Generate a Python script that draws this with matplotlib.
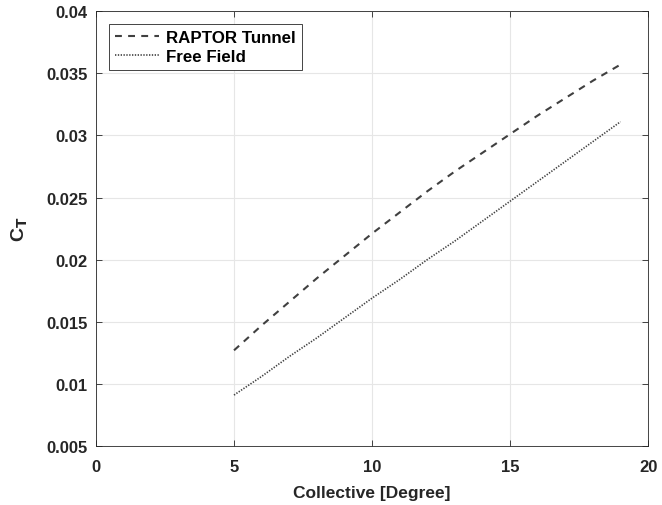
import matplotlib.pyplot as plt
import numpy as np

# collective pitch (deg) and thrust coefficient
collective = np.arange(5, 20)
ct_tunnel = [0.0127, 0.0147, 0.0166, 0.0185, 0.0203, 0.0221, 0.0238, 0.0255,
             0.0271, 0.0286, 0.0301, 0.0316, 0.0330, 0.0344, 0.0357]
ct_free = [0.0091, 0.0106, 0.0122, 0.0137, 0.0153, 0.0169, 0.0184, 0.0200,
           0.0215, 0.0231, 0.0247, 0.0263, 0.0279, 0.0295, 0.0311]

plt.rcParams['font.family'] = 'Liberation Sans'
plt.rcParams['font.weight'] = 'bold'

fig = plt.figure(figsize=(6.62, 5.06), dpi=100)
ax = fig.add_axes([0.145, 0.1166, 0.834, 0.8594])

ax.plot(collective, ct_tunnel, '--', color='#404040', lw=1.5, dashes=(3.3, 3.0),
        label='RAPTOR Tunnel')
ax.plot(collective, ct_free, color='#404040', lw=1.2, dashes=(0.8, 0.9),
        label='Free Field')

ax.set_xlim(0, 20)
ax.set_ylim(0.005, 0.04)
ax.set_xticks([0, 5, 10, 15, 20])
ax.set_yticks(np.arange(0.005, 0.0401, 0.005))
ax.set_yticklabels(['0.005', '0.01', '0.015', '0.02', '0.025', '0.03', '0.035', '0.04'])
ax.grid(True, color='#e6e6e6', lw=0.8)
ax.set_axisbelow(True)
ax.tick_params(direction='in', top=True, right=True, labelsize=12,
               colors='#262626', length=4, width=0.6)
ax.tick_params(axis='x', pad=9)
ax.tick_params(axis='y', pad=6)
for s in ax.spines.values():
    s.set_color('#262626')
    s.set_linewidth(0.6)

ax.set_xlabel('Collective [Degree]', fontsize=12.5, fontweight='bold',
              color='#262626', labelpad=8)
ax.set_ylabel('C$_\\mathbf{T}$', fontsize=14, fontweight='bold',
              color='#262626', labelpad=12)

leg = ax.legend(loc='upper left', fontsize=12.2, fancybox=False, framealpha=1,
                edgecolor='#262626', handlelength=2.6, borderpad=0.35,
                labelspacing=0.22, handletextpad=0.45,
                bbox_to_anchor=(0.008, 0.99))
leg.get_frame().set_linewidth(0.6)

fig.savefig('out.png')
